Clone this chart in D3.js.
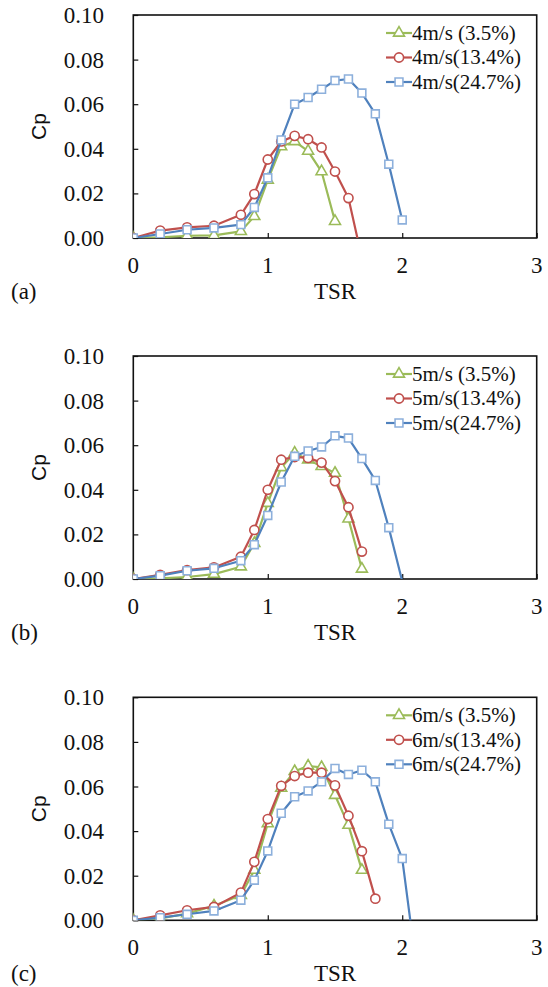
<!DOCTYPE html>
<html>
<head>
<meta charset="utf-8">
<script src="https://cdn.jsdelivr.net/npm/d3@7"></script>
<style>
  body { margin: 0; background: #fff; }
  svg { display: block; }
</style>
</head>
<body>
<div id="chart"></div>
<script>
// TSR values shared by all the measured series (each series uses the first n)
const tsr = [0, 0.2, 0.4, 0.6, 0.8, 0.9, 1.0, 1.1, 1.2, 1.3, 1.4, 1.5, 1.6, 1.7, 1.8, 1.9, 2.0, 2.1];

const panelLabels = ["(a)", "(b)", "(c)"];
const speeds = ["4m/s", "5m/s", "6m/s"];
const intensities = [" (3.5%)", "(13.4%)", "(24.7%)"];
const xTicks = [0, 1, 2, 3];
const yTicks = [0, 0.02, 0.04, 0.06, 0.08, 0.10];

// (a) 4 m/s
const cpA_35 = [0, 0.0003, 0.001, 0.0012, 0.003, 0.0097, 0.026, 0.041, 0.0433, 0.039, 0.0298, 0.0075];
const cpA_134 = [0, 0.0033, 0.0048, 0.0055, 0.0104, 0.0197, 0.0352, 0.0433, 0.0458, 0.0443, 0.0406, 0.0298, 0.0179, -0.009];
const cpA_247 = [0, 0.0018, 0.0037, 0.0045, 0.006, 0.0137, 0.027, 0.044, 0.060, 0.063, 0.0667, 0.0706, 0.0713, 0.065, 0.0557, 0.0331, 0.0081];

// (b) 5 m/s
const cpB_35 = [0, 0.0003, 0.0009, 0.0022, 0.0055, 0.016, 0.034, 0.050, 0.0565, 0.0535, 0.0505, 0.0475, 0.027, 0.0045];
const cpB_134 = [0, 0.0019, 0.004, 0.0052, 0.010, 0.022, 0.040, 0.0535, 0.0547, 0.0543, 0.0522, 0.0439, 0.0322, 0.0123];
const cpB_247 = [0, 0.0015, 0.0037, 0.0048, 0.0082, 0.0154, 0.0285, 0.0435, 0.055, 0.0574, 0.0592, 0.0642, 0.0632, 0.054, 0.0442, 0.023, -0.001];

// (c) 6 m/s
const cpC_35 = [0, 0.0008, 0.003, 0.0065, 0.0112, 0.0225, 0.0434, 0.0593, 0.0668, 0.0692, 0.0686, 0.0561, 0.0427, 0.0225];
const cpC_134 = [0, 0.0022, 0.0045, 0.006, 0.0124, 0.0262, 0.0454, 0.0603, 0.0647, 0.0662, 0.0662, 0.0605, 0.0469, 0.031, 0.0097];
const cpC_247 = [0, 0.0012, 0.0027, 0.0042, 0.009, 0.018, 0.0311, 0.048, 0.0554, 0.058, 0.0621, 0.0681, 0.0654, 0.0673, 0.0621, 0.0431, 0.0277, -0.0185];

const panelSeries = [
  [cpA_35, cpA_134, cpA_247],
  [cpB_35, cpB_134, cpB_247],
  [cpC_35, cpC_134, cpC_247]
];

// styling of the three turbulence-intensity series
const styles = [
  { color: "#9BBB59", marker: "#9BBB59", symbol: d3.symbolTriangle, size: 52 },
  { color: "#C0504D", marker: "#C0504D", symbol: d3.symbolCircle, size: 66 },
  { color: "#4F81BD", marker: "#8DB0DC", symbol: d3.symbolSquare, size: 62 }
];

const W = 548, H = 987;
const left = 133.3, right = 536.7;
const panelTops = [15, 356, 697.3];
const plotH = 223;

const svg = d3.select("#chart").append("svg")
  .attr("width", W)
  .attr("height", H);

const serif = "'Liberation Serif', 'Times New Roman', serif";
const sans = "'Liberation Sans', Arial, sans-serif";

panelTops.forEach((top, p) => {
  const bottom = top + plotH;
  const x = d3.scaleLinear().domain([0, 3]).range([left, right]);
  const y = d3.scaleLinear().domain([0, 0.1]).range([bottom, top]);

  const g = svg.append("g");

  // clip to plot area
  const clipId = "clip" + p;
  svg.append("clipPath").attr("id", clipId)
    .append("rect")
    .attr("x", left).attr("y", top)
    .attr("width", right - left).attr("height", bottom - top);

  // frame
  g.append("rect")
    .attr("x", left).attr("y", top)
    .attr("width", right - left).attr("height", bottom - top)
    .attr("fill", "none")
    .attr("stroke", "#111")
    .attr("stroke-width", 1.6);

  // y axis (ticks inward)
  const yAxis = g.append("g")
    .attr("transform", `translate(${left},0)`)
    .call(d3.axisRight(y).tickValues(yTicks).tickSize(5).tickFormat(""));
  yAxis.select(".domain").remove();
  yAxis.selectAll("line").attr("stroke", "#111").attr("stroke-width", 1.2);

  yTicks.forEach(v => {
    g.append("text")
      .attr("x", 104)
      .attr("y", y(v))
      .attr("dy", "0.35em")
      .attr("text-anchor", "end")
      .style("font-family", serif)
      .style("font-size", "23px")
      .attr("fill", "#111")
      .text(d3.format(".2f")(v));
  });

  // x axis (ticks inward)
  const xAxis = g.append("g")
    .attr("transform", `translate(0,${bottom})`)
    .call(d3.axisTop(x).tickValues(xTicks).tickSize(5).tickFormat(""));
  xAxis.select(".domain").remove();
  xAxis.selectAll("line").attr("stroke", "#111").attr("stroke-width", 1.2);

  xTicks.forEach(v => {
    g.append("text")
      .attr("x", x(v))
      .attr("y", bottom + 27)
      .attr("dy", "0.35em")
      .attr("text-anchor", "middle")
      .style("font-family", serif)
      .style("font-size", "23px")
      .attr("fill", "#111")
      .text(v);
  });

  // axis titles
  g.append("text")
    .attr("x", x(1.5))
    .attr("y", bottom + 61)
    .attr("text-anchor", "middle")
    .style("font-family", serif)
    .style("font-size", "23px")
    .attr("fill", "#111")
    .text("TSR");

  g.append("text")
    .attr("transform", `translate(39,${(top + bottom) / 2}) rotate(-90)`)
    .attr("dy", "0.35em")
    .attr("text-anchor", "middle")
    .style("font-family", sans)
    .style("font-size", "21px")
    .attr("fill", "#111")
    .text("Cp");

  g.append("text")
    .attr("x", 11)
    .attr("y", bottom + 61)
    .style("font-family", serif)
    .style("font-size", "23px")
    .attr("fill", "#111")
    .text(panelLabels[p]);

  // series
  const line = d3.line().x(d => x(d.tsr)).y(d => y(d.cp));
  const plot = g.append("g").attr("clip-path", `url(#${clipId})`);

  panelSeries[p].forEach((cp, s) => {
    const st = styles[s];
    const pts = cp.map((v, i) => ({ tsr: tsr[i], cp: v }));
    plot.append("path")
      .datum(pts)
      .attr("d", line)
      .attr("fill", "none")
      .attr("stroke", st.color)
      .attr("stroke-width", 2.2)
      .attr("stroke-linejoin", "round");

    plot.selectAll(".m" + s)
      .data(pts.filter(d => d.cp >= 0 && d.cp <= 0.1))
      .enter().append("path")
      .attr("class", "m" + s)
      .attr("transform", d => `translate(${x(d.tsr)},${y(d.cp)})`)
      .attr("d", d3.symbol().type(st.symbol).size(st.size))
      .attr("fill", "#fff")
      .attr("stroke", st.marker)
      .attr("stroke-width", 1.6);
  });

  // legend
  const lg = g.append("g");
  const rowY = [18, 42.5, 67];
  styles.forEach((st, s) => {
    const ly = top + rowY[s];
    lg.append("line")
      .attr("x1", 386).attr("x2", 412)
      .attr("y1", ly).attr("y2", ly)
      .attr("stroke", st.color)
      .attr("stroke-width", 2.2);
    lg.append("path")
      .attr("transform", `translate(399,${ly})`)
      .attr("d", d3.symbol().type(st.symbol).size(st.size))
      .attr("fill", "#fff")
      .attr("stroke", st.marker)
      .attr("stroke-width", 1.6);
    lg.append("text")
      .attr("x", 412)
      .attr("y", ly)
      .attr("dy", "0.33em")
      .style("font-family", serif)
      .style("font-size", "21px")
      .attr("fill", "#111")
      .text(speeds[p] + intensities[s]);
  });
});
</script>
</body>
</html>
